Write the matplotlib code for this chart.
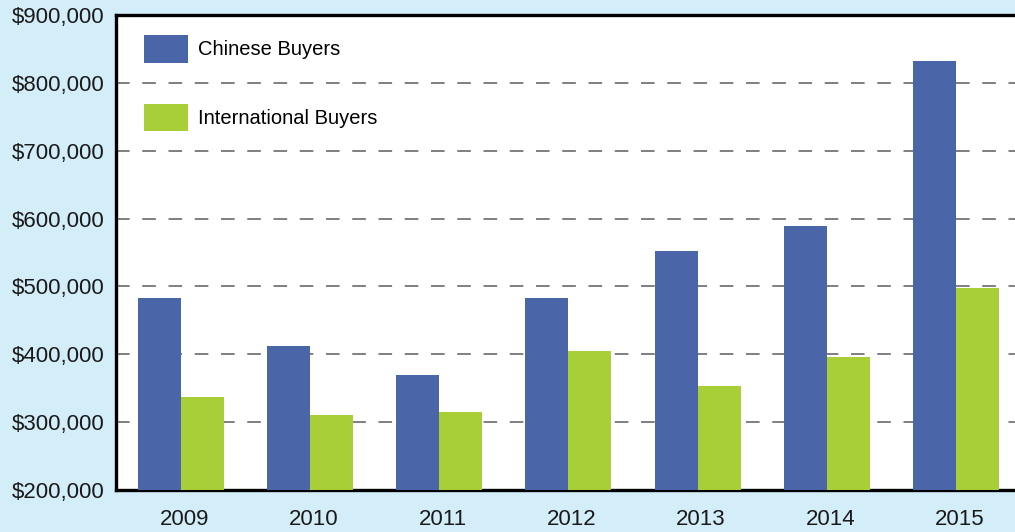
import numpy as np
import matplotlib.pyplot as plt
import matplotlib.transforms as mtransforms
from matplotlib.ticker import FuncFormatter

# data
years = ['2009', '2010', '2011', '2012', '2013', '2014', '2015']
chinese = [483000, 412000, 369000, 483000, 553000, 589000, 832000]
international = [337000, 310000, 315000, 405000, 353000, 396000, 498000]

plt.rcParams['font.family'] = ['Liberation Sans', 'DejaVu Sans']

bg = '#d4eef9'
blue = '#4a66a9'
green = '#a9cf38'

fig = plt.figure(figsize=(10.15, 5.32), dpi=100, facecolor=bg)
ax = fig.add_axes([0.1143, 0.079, 0.8857, 0.8925])
ax.set_facecolor('white')

x = np.arange(len(years))
w = 0.333
ax.bar(x - w / 2, chinese, w, color=blue, label='Chinese Buyers', zorder=3)
ax.bar(x + w / 2, international, w, color=green, label='International Buyers', zorder=3)

ax.set_ylim(200000, 900000)
ax.set_xlim(-0.503, 6.458)

# dashed grid lines
for v in range(300000, 900000, 100000):
    ax.axhline(v, color='#7f7f7f', lw=1.4, linestyle=(0, (7, 6.5)), zorder=1)

ax.set_yticks(range(200000, 900001, 100000))
ax.yaxis.set_major_formatter(FuncFormatter(lambda v, p: '${:,.0f}'.format(v)))
ax.set_xticks(x)
ax.set_xticklabels(years)
ax.tick_params(axis='both', length=0, labelsize=16, colors='#1a1a1a')
ax.tick_params(axis='y', pad=8)
ax.tick_params(axis='x', pad=14)

# year labels sit a little right of the group centre
shift = mtransforms.ScaledTranslation(3.5 / 100, 0, fig.dpi_scale_trans)
for lab in ax.get_xticklabels():
    lab.set_transform(lab.get_transform() + shift)

for s in ['left', 'top', 'bottom']:
    ax.spines[s].set_linewidth(2.4)
    ax.spines[s].set_color('black')
ax.spines['right'].set_visible(False)

leg = ax.legend(loc='upper left', bbox_to_anchor=(0.0105, 0.996), frameon=False,
                fontsize=14.5, handlelength=2.2, handleheight=1.72,
                labelspacing=2.05, handletextpad=0.5)

plt.savefig('out.png', dpi=100, facecolor=bg)
